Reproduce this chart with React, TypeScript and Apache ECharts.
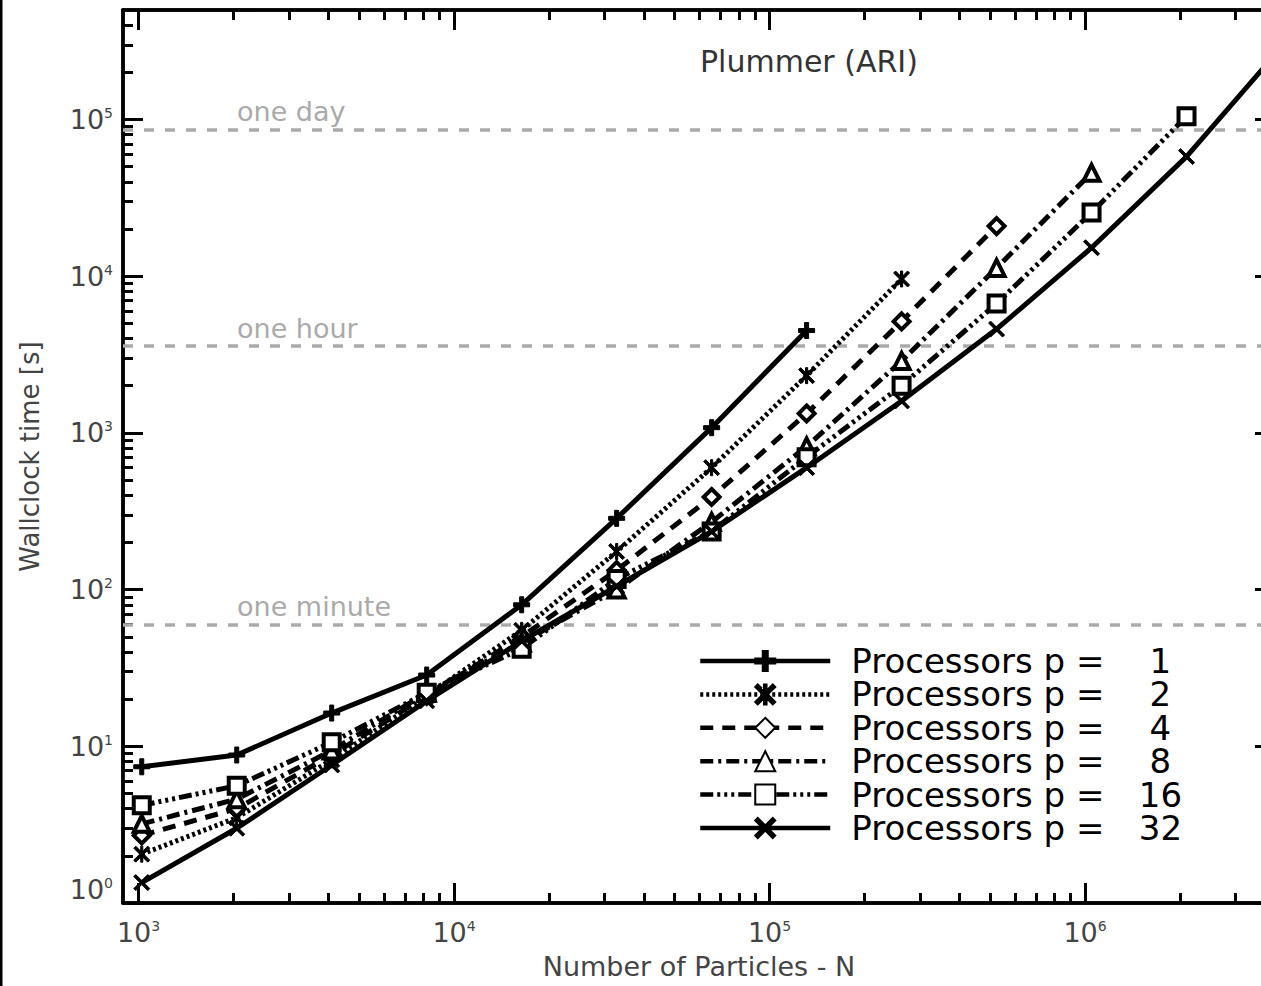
import React, { useEffect, useRef } from 'react';
import * as echarts from 'echarts';

// ---- data ----
const particles = [1024, 2048, 4096, 8192, 16384, 32768, 65536, 131072, 262144, 524288, 1048576, 2097152, 4194304];
const processors = [1, 2, 4, 8, 16, 32];
const timeP1 = [7.4, 8.8, 16.3, 28.5, 80, 285, 1080, 4500];
const timeP2 = [2.05, 3.5, 8.2, 21, 55, 175, 600, 2320, 9600];
const timeP4 = [2.7, 4.0, 8.8, 21, 50, 133, 390, 1330, 5150, 20900];
const timeP8 = [3.2, 4.6, 9.4, 22, 46, 100, 270, 820, 2880, 11300, 45700];
const timeP16 = [4.2, 5.6, 10.6, 22, 42, 117, 235, 700, 2000, 6700, 25500, 105000];
const timeP32 = [1.35, 3.0, 7.6, 19.5, 47, 105, 235, 600, 1600, 4600, 15200, 58000, 290000];
const refValues = [86400, 3600, 60];
const refLabels = ['one day', 'one hour', 'one minute'];
const xMajorTicks = [1e3, 1e4, 1e5, 1e6];
const xMinorTicks = [2e3, 3e3, 4e3, 5e3, 6e3, 7e3, 8e3, 9e3, 2e4, 3e4, 4e4, 5e4, 6e4, 7e4, 8e4, 9e4, 2e5, 3e5, 4e5, 5e5, 6e5, 7e5, 8e5, 9e5, 2e6, 3e6];
const yMajorTicks = [1, 10, 100, 1e3, 1e4, 1e5];
const yMinorTicks = [2, 3, 4, 5, 6, 7, 8, 9, 20, 30, 40, 50, 60, 70, 80, 90, 200, 300, 400, 500, 600, 700, 800, 900, 2e3, 3e3, 4e3, 5e3, 6e3, 7e3, 8e3, 9e3, 2e4, 3e4, 4e4, 5e4, 6e4, 7e4, 8e4, 9e4, 2e5, 3e5, 4e5];
const xMin = 893;
const xMax = 4e6;
const yMin = 1;
const yMax = 5e5;

const FONT = 'DejaVu Sans';

const PLUS = 'path://M7.5,0H12.5V7.5H20V12.5H12.5V20H7.5V12.5H0V7.5H7.5Z';
const CROSS = 'path://M0,2.5L2.5,0L10,7.5L17.5,0L20,2.5L12.5,10L20,17.5L17.5,20L10,12.5L2.5,20L0,17.5L7.5,10Z';
const STAR = 'path://M8.7,0H11.3V20H8.7Z M0,2.5L2.5,0L10,7.5L17.5,0L20,2.5L12.5,10L20,17.5L17.5,20L10,12.5L2.5,20L0,17.5L7.5,10Z';

const seriesDefs = [
  { p: processors[0], data: timeP1, dash: 'solid' as any, symbol: PLUS, open: false },
  { p: processors[1], data: timeP2, dash: [3, 3], symbol: STAR, open: false },
  { p: processors[2], data: timeP4, dash: [13, 9], symbol: 'diamond', open: true },
  { p: processors[3], data: timeP8, dash: [13, 5, 3, 5], symbol: 'triangle', open: true },
  { p: processors[4], data: timeP16, dash: [13, 4, 3, 4, 3, 4, 3, 4], symbol: 'rect', open: true },
  { p: processors[5], data: timeP32, dash: 'solid' as any, symbol: CROSS, open: false },
];

const expLabel = (v: number) => `{b|10}{s|${Math.round(Math.log10(v))}}`;
const labelRich = {
  b: { fontSize: 27, fontFamily: FONT, color: '#444' },
  s: { fontSize: 14, fontFamily: FONT, color: '#444', verticalAlign: 'top' },
};

function axisCfg(pos: string, min: number, max: number, ticks: number[], len: number, labels: any, extra: any = {}) {
  return {
    type: 'log',
    logBase: 10,
    position: pos,
    min,
    max,
    axisLine: { show: true, onZero: false, lineStyle: { color: '#000', width: 3.5 } },
    axisTick: { show: true, inside: true, length: len, customValues: ticks, lineStyle: { color: '#000', width: 3 } },
    axisLabel: labels || { show: false },
    splitLine: { show: false },
    minorTick: { show: false },
    minorSplitLine: { show: false },
    ...extra,
  };
}

export default function App() {
  const ref = useRef<HTMLDivElement>(null);
  useEffect(() => {
    if (!ref.current) return;
    const chart = echarts.init(ref.current, null, { renderer: 'svg' });
    const xLabels = {
      show: true,
      customValues: xMajorTicks,
      formatter: expLabel,
      rich: labelRich,
      margin: 16,
    };
    const yLabels = {
      show: true,
      customValues: yMajorTicks,
      formatter: expLabel,
      rich: labelRich,
      margin: 10,
      verticalAlignMinLabel: 'bottom',
    };
    const option: any = {
      animation: false,
      textStyle: { fontFamily: FONT },
      title: {
        text: 'Plummer (ARI)',
        left: 700,
        top: 46,
        padding: 0,
        textStyle: { fontFamily: FONT, fontSize: 30, fontWeight: 'normal', color: '#333' },
      },
      grid: { left: 123, right: 15, top: 10, bottom: 83, outerBoundsMode: 'none', containLabel: false },
      legend: {
        orient: 'vertical',
        left: 698,
        top: 644,
        padding: 0,
        itemGap: -0.6,
        itemWidth: 130,
        itemHeight: 25,
        selectedMode: false,
        lineStyle: { width: 4.5 },
        formatter: (name: string) => `{a|Processors p =}{n|${name.split('= ')[1]}}`,
        textStyle: {
          fontFamily: FONT,
          fontSize: 34,
          color: '#000',
          lineHeight: 31.4,
          rich: {
            a: { fontFamily: FONT, fontSize: 34, color: '#000', lineHeight: 31.4, padding: [0, 0, 0, 16] },
            n: { fontFamily: FONT, fontSize: 34, color: '#000', lineHeight: 31.4, width: 112, align: 'center' },
          },
        },
      },
      xAxis: [
        axisCfg('bottom', xMin, xMax, xMajorTicks, 20, xLabels, {
          name: 'Number of Particles - N',
          nameLocation: 'middle',
          nameGap: 50,
          nameMoveOverlap: false,
          nameTextStyle: { fontFamily: FONT, fontSize: 27, color: '#444' },
        }),
        axisCfg('bottom', xMin, xMax, xMinorTicks, 10, null),
        axisCfg('top', xMin, xMax, xMajorTicks, 20, null),
        axisCfg('top', xMin, xMax, xMinorTicks, 10, null),
      ],
      yAxis: [
        axisCfg('left', yMin, yMax, yMajorTicks, 20, yLabels, {
          name: 'Wallclock time [s]',
          nameLocation: 'middle',
          nameGap: 80,
          nameRotate: 90,
          nameMoveOverlap: false,
          nameTextStyle: { fontFamily: FONT, fontSize: 26, color: '#444' },
        }),
        axisCfg('left', yMin, yMax, yMinorTicks, 10, null),
        axisCfg('right', yMin, yMax, yMajorTicks, 20, null),
        axisCfg('right', yMin, yMax, yMinorTicks, 10, null),
      ],
      graphic: [
        { type: 'rect', left: 0, top: 0, shape: { x: 0, y: 0, width: 2.5, height: 986 }, style: { fill: '#000' } },
      ],
      series: seriesDefs.map((d, i) => ({
        type: 'line',
        name: `Processors p = ${d.p}`,
        xAxisIndex: 0,
        yAxisIndex: 0,
        data: d.data.map((v, j) => [particles[j], v]),
        symbol: d.symbol,
        symbolSize: 16,
        showAllSymbol: true,
        lineStyle: { color: '#000', width: 5, type: d.dash },
        itemStyle: d.open
          ? { color: '#fff', borderColor: '#000', borderWidth: 4 }
          : { color: '#000', borderColor: '#000', borderWidth: 1 },
        emphasis: { disabled: true },
        z: 3 + i,
        markLine:
          i === 0
            ? {
                silent: true,
                symbol: ['none', 'none'],
                lineStyle: { color: '#aaa', width: 3.5, type: [10, 11] },
                label: {
                  show: true,
                  position: 'insideStartTop',
                  distance: [114, 4],
                  color: '#aaa',
                  fontSize: 27,
                  fontFamily: FONT,
                },
                emphasis: { disabled: true },
                data: refValues.map((v, k) => ({ yAxis: v, name: refLabels[k], label: { formatter: refLabels[k] } })),
                z: 1,
              }
            : undefined,
      })),
    };
    chart.setOption(option);
    return () => chart.dispose();
  }, []);
  return (
    <div style={{ position: 'fixed', left: 0, top: 0, width: 1261, height: 986, overflow: 'hidden', background: '#fff' }}>
      <div ref={ref} style={{ width: 1290, height: 986 }} />
    </div>
  );
}
